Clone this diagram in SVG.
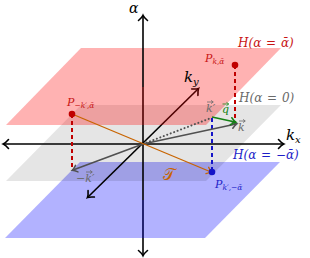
<svg xmlns="http://www.w3.org/2000/svg" width="310" height="258" viewBox="0 0 310 258">
<style>
.ax{stroke:#000;stroke-width:1.6;fill:none}
.t{font-family:"DejaVu Serif","Liberation Serif",serif;font-style:italic}
.h{font-size:12px;word-spacing:1px}
.red{fill:#c81414}
.blue{fill:#1e1ec8}
.gray{fill:#6a6a6a}
.vec{stroke:#505050;stroke-width:1.6;fill:none}
.acc{stroke-width:0.8;fill:none}
</style>
<defs>
<marker id="ah" viewBox="-6 -6 12 12" markerWidth="12" markerHeight="12" refX="0" refY="0" orient="auto-start-reverse" markerUnits="userSpaceOnUse">
<path d="M-4.5,-4.5 Q-1.5,-1 0.8,0 Q-1.5,1 -4.5,4.5" fill="none" stroke="#000" stroke-width="1.6" stroke-linecap="round"/>
</marker>
<marker id="ag" viewBox="-6 -6 12 12" markerWidth="12" markerHeight="12" refX="0" refY="0" orient="auto" markerUnits="userSpaceOnUse">
<path d="M-4,-3.5 Q-1.5,-1 0.8,0 Q-1.5,1 -4,3.5" fill="none" stroke="#505050" stroke-width="1.5" stroke-linecap="round"/>
</marker>
<marker id="agr" viewBox="-6 -6 12 12" markerWidth="12" markerHeight="12" refX="0" refY="0" orient="auto" markerUnits="userSpaceOnUse">
<path d="M-4,-3.5 Q-1.5,-1 0.8,0 Q-1.5,1 -4,3.5" fill="none" stroke="#148214" stroke-width="1.5" stroke-linecap="round"/>
</marker>
<marker id="ao" viewBox="-6 -6 12 12" markerWidth="12" markerHeight="12" refX="0" refY="0" orient="auto" markerUnits="userSpaceOnUse">
<path d="M-4,-3.5 Q-1.5,-1 0.8,0 Q-1.5,1 -4,3.5" fill="none" stroke="#c86400" stroke-width="1.3" stroke-linecap="round"/>
</marker>
<marker id="vg" viewBox="-3 -3 6 6" markerWidth="6" markerHeight="6" refX="0" refY="0" orient="auto" markerUnits="userSpaceOnUse">
<path d="M-2,-1.6 L0.3,0 L-2,1.6" fill="none" stroke="#6a6a6a" stroke-width="0.8"/>
</marker>
<marker id="vgr" viewBox="-3 -3 6 6" markerWidth="6" markerHeight="6" refX="0" refY="0" orient="auto" markerUnits="userSpaceOnUse">
<path d="M-2,-1.6 L0.3,0 L-2,1.6" fill="none" stroke="#148214" stroke-width="0.8"/>
</marker>
</defs>
<rect width="310" height="258" fill="#fff"/>
<g id="axis-alpha-low"><line class="ax" x1="143" y1="200" x2="143" y2="255" marker-end="url(#ah)"/></g>
<g id="plane-neg"><polygon points="80,162 280,162 205,238 5,238" fill="#0000ff" fill-opacity="0.3"/></g>
<g id="plane-zero"><polygon points="81,105 281,105 206,181 6,181" fill="#000" fill-opacity="0.1"/></g>
<g id="axes">
<line class="ax" x1="143" y1="87" x2="143" y2="200"/>
<line class="ax" x1="4" y1="144" x2="283" y2="144" marker-start="url(#ah)" marker-end="url(#ah)"/>
<line class="ax" x1="88" y1="197" x2="198" y2="89" marker-start="url(#ah)" marker-end="url(#ah)"/>
</g>
<g id="plane-pos"><polygon points="81,48 281,48 206,125 6,125" fill="#ff0000" fill-opacity="0.3"/></g>
<g id="axis-alpha-up"><line class="ax" x1="143" y1="87" x2="143" y2="16" marker-end="url(#ah)"/></g>
<g id="connectors">
<line x1="72" y1="114" x2="72" y2="170" stroke="#c00000" stroke-width="2" stroke-dasharray="4 3"/>
<line x1="235" y1="65" x2="235" y2="122" stroke="#c00000" stroke-width="2" stroke-dasharray="4 3"/>
<line x1="212" y1="118" x2="212" y2="172" stroke="#1414c8" stroke-width="2" stroke-dasharray="4 3"/>
<line x1="143" y1="144" x2="211" y2="118" stroke="#505050" stroke-width="2" stroke-dasharray="0.1 3.6" stroke-linecap="round"/>
<line class="vec" x1="143" y1="144" x2="236" y2="124" marker-end="url(#ag)"/>
<line class="vec" x1="143" y1="144" x2="73" y2="170" marker-end="url(#ag)"/>
<line x1="212" y1="117" x2="235" y2="122" stroke="#148214" stroke-width="1.6" marker-end="url(#agr)"/>
<line x1="72" y1="114" x2="211" y2="172" stroke="#c86400" stroke-width="1.3" marker-end="url(#ao)"/>
</g>
<g id="point-neg-kprime"><circle cx="72" cy="114" r="3.3" fill="#c00000"/></g>
<g id="point-k"><circle cx="235" cy="65" r="3.3" fill="#c00000"/></g>
<g id="point-kprime"><circle cx="212" cy="172" r="3.3" fill="#1414c8"/></g>
<g id="labels">
<text class="t" x="129" y="13" font-size="14">α</text>
<text class="t" x="286" y="140" font-size="15">k<tspan font-size="10" dy="3">x</tspan></text>
<text class="t" x="184" y="82" font-size="15">k<tspan font-size="10" dy="3">y</tspan></text>
<text class="t h red" x="238" y="47">H(α = ᾱ)</text>
<text class="t red" x="205" y="62" font-size="11">P<tspan font-size="7.5" dy="2">k,ᾱ</tspan></text>
<text class="t h gray" x="239" y="102">H(α = 0)</text>
<text class="t gray" x="206" y="112" font-size="11">k′</text>
<line class="acc" x1="207" y1="102" x2="213" y2="102" stroke="#6a6a6a" marker-end="url(#vg)"/>
<text class="t" x="222" y="113" font-size="11" fill="#148214">q</text>
<line class="acc" x1="222.5" y1="104" x2="228.5" y2="104" stroke="#148214" marker-end="url(#vgr)"/>
<text class="t gray" x="238" y="131" font-size="11">k</text>
<line class="acc" x1="239" y1="121" x2="245" y2="121" stroke="#6a6a6a" marker-end="url(#vg)"/>
<text class="t h blue" x="233" y="159">H(α = −ᾱ)</text>
<text class="t blue" x="215" y="188" font-size="11">P<tspan font-size="7.5" dy="2">k′,−ᾱ</tspan></text>
<text class="t red" x="67" y="106" font-size="11">P<tspan font-size="7.5" dy="2">−k′,ᾱ</tspan></text>
<text class="t gray" x="76" y="182" font-size="11">−k′</text>
<line class="acc" x1="86" y1="172" x2="92" y2="172" stroke="#6a6a6a" marker-end="url(#vg)"/>
<text x="163" y="180" font-size="16" fill="#c86400" font-family="DejaVu Sans,Noto Sans,serif">𝒯</text>
</g>
</svg>
